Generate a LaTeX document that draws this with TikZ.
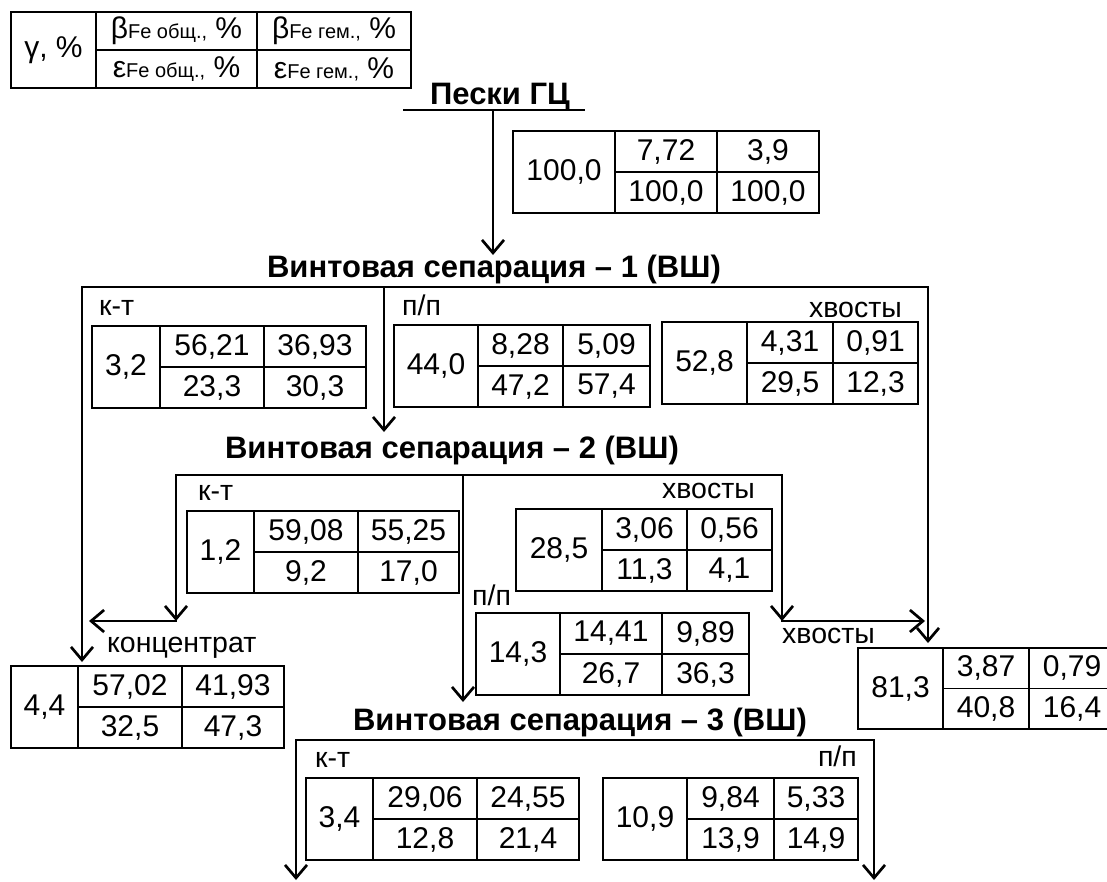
\documentclass[tikz,border=0pt]{standalone}
\usepackage{fontspec}
\setmainfont{Liberation Sans}
\usetikzlibrary{arrows.meta}

\newcommand{\numfont}{\fontsize{30}{34}\selectfont}
\newcommand{\labfont}{\fontsize{28.5}{32}\selectfont}
\newcommand{\headfont}{\bfseries\fontsize{31}{35}\selectfont}
\newcommand{\smalltxt}[1]{{\fontsize{20}{23}\selectfont #1}}
\newcommand{\setcells}[4]{\def\cwa{#1}\def\cwb{#2}\def\cwc{#3}\def\crh{#4}}
% table: name, top-left corner, {w1}{w2}{w3}{row height}, gamma, beta row, eps row
\newcommand{\restab}[8]{%
  \setcells#3
  \node[cell, minimum width=\cwa pt, minimum height=2*\crh pt] (#1) at (#2) {#4};
  \node[cell, minimum width=\cwb pt, minimum height=\crh pt] (#1-b1) at (#1.north east) {#5};
  \node[cell, minimum width=\cwc pt, minimum height=\crh pt] (#1-b2) at (#1-b1.north east) {#6};
  \node[cell, minimum width=\cwb pt, minimum height=\crh pt] (#1-e1) at (#1-b1.south west) {#7};
  \node[cell, minimum width=\cwc pt, minimum height=\crh pt] (#1-e2) at (#1-e1.north east) {#8};
}

\begin{document}
\begin{tikzpicture}[x=1pt, y=-1pt,
    cell/.style={draw, line width=1.6pt, anchor=north west, inner sep=0pt,
      outer sep=0pt, font=\numfont},
    head/.style={anchor=base, inner sep=0pt, font=\headfont},
    lab/.style={anchor=base west, inner sep=0pt, font=\labfont},
    flow/.style={line width=2.7pt, line cap=rect},
    >={Straight Barb[length=13pt, width=22pt]}]
  \useasboundingbox (0,0) rectangle (1107,881);

  % legend
  \restab{legend}{11,12}{{85}{161}{154}{38}}{γ, \%}
    {β\smalltxt{Fe общ.,} \%}{β\smalltxt{Fe гем.,} \%}
    {ε\smalltxt{Fe общ.,} \%}{ε\smalltxt{Fe гем.,} \%}

  % feed
  \node[head] (feedname) at (500,104) {Пески ГЦ};
  \coordinate (ul) at (404,110);
  \coordinate (ur) at (584,110);
  \coordinate (f0) at (493,110);
  \coordinate (f1) at (493,255);
  \draw[flow] (ul) -- (ur);
  \draw[flow,->] (f0) -- (f1);
  \restab{feed}{513,131}{{102}{102}{102}{41}}{100,0}{7,72}{3,9}{100,0}{100,0}

  % stage 1
  \node[head] (vs1) at (494,277) {Винтовая сепарация – 1 (ВШ)};
  \coordinate (s1l) at (82,287);
  \coordinate (s1m) at (384,287);
  \coordinate (s1r) at (928,287);
  \coordinate (e1l) at (82,662);
  \coordinate (e1m) at (384,432);
  \coordinate (e1r) at (928,643);
  \draw[flow,->] (s1r) -- (s1l) -- (e1l);
  \draw[flow,->] (s1m) -- (e1m);
  \draw[flow,->] (s1r) -- (e1r);

  \node[lab] (lkt1) at (99,315) {к-т};
  \node[lab] (lpp1) at (402,315) {п/п};
  \node[lab, anchor=base east] (ltl1) at (902,317) {хвосты};
  \restab{kt1}{92,326}{{68}{104}{102}{41}}{3,2}{56,21}{36,93}{23,3}{30,3}
  \restab{pp1}{394,325}{{84}{85}{87}{41}}{44,0}{8,28}{5,09}{47,2}{57,4}
  \restab{tl1}{662,322}{{85}{86}{85}{41}}{52,8}{4,31}{0,91}{29,5}{12,3}

  % stage 2
  \node[head] (vs2) at (452,458) {Винтовая сепарация – 2 (ВШ)};
  \coordinate (s2l) at (176,475);
  \coordinate (s2m) at (463,475);
  \coordinate (s2r) at (782,475);
  \coordinate (j2l) at (176,621);
  \coordinate (e2l) at (89,621);
  \coordinate (e2m) at (463,702);
  \coordinate (j2r) at (782,621);
  \coordinate (e2r) at (925,621);
  \draw[flow] (s2l) -- (s2r);
  \draw[flow,->] (s2l) -- (j2l);
  \draw[flow,->] (j2l) -- (e2l);
  \draw[flow,->] (s2m) -- (e2m);
  \draw[flow,->] (s2r) -- (j2r);
  \draw[flow,->] (j2r) -- (e2r);

  \node[lab] (lkt2) at (198,500) {к-т};
  \node[lab, anchor=base east] (ltl2) at (755,498) {хвосты};
  \node[lab] (lpp2) at (472,605) {п/п};
  \restab{kt2}{187,511}{{67}{104}{101}{41}}{1,2}{59,08}{55,25}{9,2}{17,0}
  \restab{tl2}{516,509}{{86}{85}{85}{41}}{28,5}{3,06}{0,56}{11,3}{4,1}
  \restab{pp2}{476,613}{{84}{102}{87}{41}}{14,3}{14,41}{9,89}{26,7}{36,3}

  % products
  \node[lab] (lconc) at (107,652) {концентрат};
  \node[lab] (ltails) at (782,643) {хвосты};
  \restab{conc}{11,666}{{67}{104}{102}{41}}{4,4}{57,02}{41,93}{32,5}{47,3}
  \restab{tails}{858,648}{{85}{86}{86}{40.5}}{81,3}{3,87}{0,79}{40,8}{16,4}

  % stage 3
  \node[head] (vs3) at (580,730) {Винтовая сепарация – 3 (ВШ)};
  \coordinate (s3l) at (296,740);
  \coordinate (s3r) at (874,740);
  \coordinate (e3l) at (296,880);
  \coordinate (e3r) at (874,880);
  \draw[flow,->] (s3r) -- (s3l) -- (e3l);
  \draw[flow,->] (s3r) -- (e3r);

  \node[lab] (lkt3) at (315,767) {к-т};
  \node[lab, anchor=base east] (lpp3) at (857,766) {п/п};
  \restab{kt3}{306,778}{{67}{104}{102}{41}}{3,4}{29,06}{24,55}{12,8}{21,4}
  \restab{pp3}{603,778}{{84}{87}{84}{41}}{10,9}{9,84}{5,33}{13,9}{14,9}
\end{tikzpicture}
\end{document}
